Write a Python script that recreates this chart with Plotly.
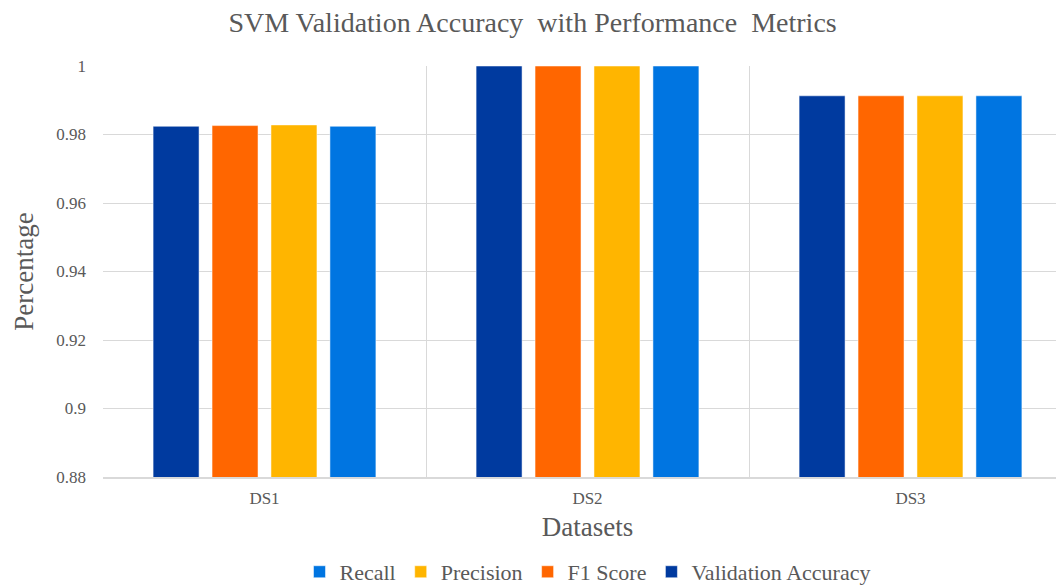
import plotly.graph_objects as go

datasets = ["DS1", "DS2", "DS3"]
validation_accuracy = [0.9824, 1.0, 0.9913]
f1_score = [0.9826, 1.0, 0.9913]
precision = [0.9828, 1.0, 0.9913]
recall = [0.9824, 1.0, 0.9913]

series = [
    ("Validation Accuracy", validation_accuracy, "#003A9F"),
    ("F1 Score", f1_score, "#FF6600"),
    ("Precision", precision, "#FFB500"),
    ("Recall", recall, "#0075E1"),
]

font_family = "Liberation Serif, Times New Roman, serif"
gray = "#595959"

fig = go.Figure()
for name, vals, color in series:
    fig.add_trace(go.Bar(
        x=datasets, y=vals, name=name,
        marker=dict(color=color, line=dict(color="rgba(255,255,255,0.5)", width=1)),
    ))

fig.update_layout(
    width=1064, height=585,
    paper_bgcolor="white", plot_bgcolor="white",
    margin=dict(l=95, r=0, t=58, b=116),
    barmode="group", bargap=0.27, bargroupgap=0.22,
    title=dict(text="SVM Validation Accuracy  with Performance  Metrics",
               x=0.493, xref="container", xanchor="center", y=0.976, yanchor="middle",
               font=dict(family=font_family, size=28, color=gray)),
    font=dict(family=font_family, color=gray),
    legend=dict(orientation="h", x=0.5, xanchor="center", y=-0.231, yanchor="middle",
                traceorder="reversed", font=dict(family=font_family, size=22, color=gray),
                itemwidth=30, entrywidthmode="pixels"),
    showlegend=True,
)
fig.update_yaxes(
    range=[0.88, 1.0], dtick=0.02, tick0=0.88,
    showgrid=True, gridcolor="#D9D9D9", gridwidth=1,
    zeroline=False, showline=False,
    tickfont=dict(family=font_family, size=17, color=gray), ticklabelstandoff=16,
    title=dict(text="Percentage", font=dict(family=font_family, size=27, color=gray), standoff=14),
)
fig.update_xaxes(
    tickson="boundaries", showgrid=True, gridcolor="#D9D9D9", gridwidth=1,
    showline=True, linecolor="#D9D9D9", linewidth=2, ticks="",
    tickfont=dict(family=font_family, size=17, color=gray), ticklabelstandoff=5,
    title=dict(text="Datasets", font=dict(family=font_family, size=27, color=gray), standoff=10),
)

fig.write_html("out.html")
